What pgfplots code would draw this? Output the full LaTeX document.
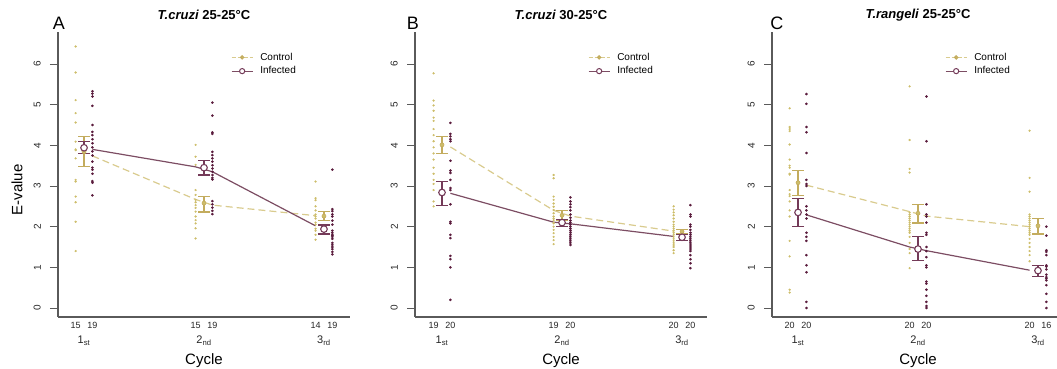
\documentclass[border=0pt]{standalone}
\usepackage{pgfplots}
\pgfplotsset{compat=1.18}
\usepackage{fontspec}
\setmainfont{Liberation Sans}
\definecolor{ctrl}{HTML}{CDBD6A}
\definecolor{ctrlline}{HTML}{D9CB8E}
\definecolor{ctrlerr}{HTML}{C3AC5E}
\definecolor{inf}{HTML}{5A1B3C}
\definecolor{infline}{HTML}{7C4D63}
\definecolor{inferr}{HTML}{743A58}
\definecolor{axgray}{HTML}{5A5A5A}
\tikzset{
  cnt/.style={font=\fontsize{9}{10}\selectfont, text=black!85, anchor=base, yshift=-11.5pt, inner sep=0pt},
  ord/.style={font=\fontsize{11}{12}\selectfont, text=black!85, anchor=base, yshift=-27pt, inner sep=0pt},
}
\newcommand{\cyclelabels}[6]{%
  \node[cnt] at (axis cs:0.93,-0.221) {#1};
  \node[cnt] at (axis cs:1.07,-0.221) {#2};
  \node[cnt] at (axis cs:1.93,-0.221) {#3};
  \node[cnt] at (axis cs:2.07,-0.221) {#4};
  \node[cnt] at (axis cs:2.93,-0.221) {#5};
  \node[cnt] at (axis cs:3.07,-0.221) {#6};
  \node[ord] at (axis cs:1,-0.221) {1\textsubscript{st}};
  \node[ord] at (axis cs:2,-0.221) {2\textsubscript{nd}};
  \node[ord] at (axis cs:3,-0.221) {3\textsubscript{rd}};
  \node[font=\fontsize{15}{15}\selectfont] at (axis description cs:0.5,-0.1544) {Cycle};
}
\pgfplotsset{
  panel/.style={
    scale only axis, width=292pt, height=285pt,
    ymin=-0.221, ymax=6.786,
    axis x line*=bottom, axis y line*=left,
    axis line style={-, draw=axgray, line width=1.1pt},
    ytick={0,1,2,3,4,5,6}, xtick=\empty,
    ytick pos=left,
    tick align=outside, major tick length=8pt,
    ytick style={draw=axgray, line width=0.9pt},
    /pgf/number format/assume math mode=true,
    yticklabel style={rotate=90, anchor=south, inner sep=0pt, font=\fontsize{10}{11}\selectfont, text=black!85},
    yticklabel shift=9pt,
    clip=false,
    title style={font=\fontsize{13}{14}\selectfont\bfseries, at={(axis description cs:0.5,1)}, anchor=center, yshift=11pt},
    legend style={draw=none, fill=none, at={(axis description cs:0.592,0.934)}, anchor=north west, inner sep=0pt, row sep=1pt, column sep=5pt, font=\fontsize{10}{12}\selectfont},
    legend cell align=left,
    legend image code/.code={\draw[mark repeat=2,mark phase=2,##1] plot coordinates {(0pt,0pt) (10.5pt,0pt) (21pt,0pt)};},
  },
  ctrldots/.style={only marks, mark=*, mark size=0.9pt, color=ctrl, mark options={draw=none, fill=ctrl}},
  infdots/.style={only marks, mark=*, mark size=1.1pt, color=inf, mark options={draw=none, fill=inf}},
  ctrlln/.style={no marks, line width=1.2pt, color=ctrlline, dash pattern=on 7pt off 4pt},
  infln/.style={no marks, line width=1.2pt, color=infline, solid},
  ctrlleg/.style={line width=1.2pt, color=ctrlline, dash pattern=on 4pt off 2pt, mark=*, mark size=1.6pt, mark options={solid, fill=ctrl, draw=ctrlerr}},
  infleg/.style={line width=1.2pt, color=infline, solid, mark=*, mark size=2.6pt, mark options={solid, fill=white, draw=inferr, line width=1pt}},
  ctrlmean/.style={only marks, mark=*, mark size=2pt, color=ctrlerr, mark options={draw=ctrlerr, fill=ctrl, line width=0.6pt},
    error bars/.cd, y dir=both, y explicit,
    error bar style={line width=1.1pt, draw=ctrlerr},
    error mark options={rotate=90, mark size=6pt, line width=1.1pt, draw=ctrlerr}},
  infmean/.style={only marks, mark=*, mark size=3.3pt, color=inferr, mark options={draw=inferr, fill=white, line width=1.1pt},
    error bars/.cd, y dir=both, y explicit,
    error bar style={line width=1.1pt, draw=inferr},
    error mark options={rotate=90, mark size=6pt, line width=1.1pt, draw=inferr}},
}
\begin{document}
\begin{tikzpicture}
\useasboundingbox (0pt,0pt) rectangle (1057pt,369pt);
% ---------------- Panel A
\begin{axis}[panel, at={(58pt,52pt)}, anchor=south west, xmin=0.783, xmax=3.217,
  title={\textit{T.cruzi} 25-25°C}]
\addlegendimage{ctrlleg}
\addlegendentry{Control}
\addlegendimage{infleg}
\addlegendentry{Infected}
\addplot[ctrldots] coordinates {(0.93,6.43) (0.93,5.79) (0.93,5.11) (0.93,4.79) (0.93,4.56) (0.93,4.09) (0.93,3.9) (0.93,3.88) (0.93,3.68) (0.93,3.15) (0.93,3.11) (0.93,2.74) (0.93,2.6) (0.93,2.12) (0.93,1.4)};
\addplot[infdots] coordinates {(1.07,5.33) (1.07,5.27) (1.07,5.2) (1.07,4.97) (1.07,4.5) (1.07,4.33) (1.07,4.25) (1.07,4.15) (1.07,4.05) (1.07,3.95) (1.07,3.85) (1.07,3.75) (1.07,3.6) (1.07,3.45) (1.07,3.4) (1.07,3.3) (1.07,3.12) (1.07,3.08) (1.07,2.77)};
\addplot[ctrldots] coordinates {(1.93,4.01) (1.93,3.72) (1.93,3.52) (1.93,2.9) (1.93,2.78) (1.93,2.66) (1.93,2.6) (1.93,2.53) (1.93,2.46) (1.93,2.37) (1.93,2.25) (1.93,2.16) (1.93,2.08) (1.93,1.96) (1.93,1.71)};
\addplot[infdots] coordinates {(2.07,5.05) (2.07,4.73) (2.07,4.32) (2.07,4.28) (2.07,3.84) (2.07,3.76) (2.07,3.68) (2.07,3.6) (2.07,3.51) (2.07,3.43) (2.07,3.35) (2.07,3.27) (2.07,3.2) (2.07,3.16) (2.07,2.63) (2.07,2.55) (2.07,2.47) (2.07,2.39) (2.07,2.31)};
\addplot[ctrldots] coordinates {(2.93,3.11) (2.93,2.7) (2.93,2.65) (2.93,2.5) (2.93,2.4) (2.93,2.3) (2.93,2.25) (2.93,2.2) (2.93,2.1) (2.93,2.05) (2.93,1.95) (2.93,1.9) (2.93,1.8) (2.93,1.68)};
\addplot[infdots] coordinates {(3.07,3.4) (3.07,2.43) (3.07,2.38) (3.07,2.3) (3.07,2.25) (3.07,2.15) (3.07,2.05) (3.07,1.9) (3.07,1.85) (3.07,1.8) (3.07,1.78) (3.07,1.75) (3.07,1.7) (3.07,1.6) (3.07,1.55) (3.07,1.5) (3.07,1.45) (3.07,1.38) (3.07,1.32)};
\addplot[ctrlln] coordinates {(1.07,3.74) (1.93,2.67) (2.07,2.53) (2.93,2.27)};
\addplot[infln] coordinates {(1.07,3.90) (1.93,3.47) (2.07,3.35) (2.93,2.02)};
\addplot[ctrlmean] coordinates {(1,3.84) += (0,0.37) -= (0,0.37) (2,2.58) += (0,0.17) -= (0,0.22) (3,2.26) += (0,0.12) -= (0,0.10)};
\addplot[infmean] coordinates {(1,3.94) += (0,0.15) -= (0,0.14) (2,3.45) += (0,0.17) -= (0,0.18) (3,1.94) += (0,0.10) -= (0,0.12)};
\cyclelabels{15}{19}{15}{19}{14}{19}
\node[font=\fontsize{18}{18}\selectfont] at (axis description cs:0.003,1.0316) {A};
\node[rotate=90, font=\fontsize{15}{15}\selectfont] at (axis description cs:-0.1404,0.446) {E-value};
\end{axis}
% ---------------- Panel B
\begin{axis}[panel, at={(415pt,52pt)}, anchor=south west, xmin=0.775, xmax=3.208,
  title={\textit{T.cruzi} 30-25°C}]
\addlegendimage{ctrlleg}
\addlegendentry{Control}
\addlegendimage{infleg}
\addlegendentry{Infected}
\addplot[ctrldots] coordinates {(0.93,5.77) (0.93,5.1) (0.93,4.98) (0.93,4.85) (0.93,4.68) (0.93,4.6) (0.93,4.4) (0.93,4.25) (0.93,4.1) (0.93,3.95) (0.93,3.8) (0.93,3.65) (0.93,3.45) (0.93,3.3) (0.93,3.15) (0.93,3.05) (0.93,2.9) (0.93,2.62) (0.93,2.5)};
\addplot[infdots] coordinates {(1.07,4.55) (1.07,4.28) (1.07,4.22) (1.07,4.15) (1.07,4.1) (1.07,3.62) (1.07,3.38) (1.07,3.32) (1.07,3.15) (1.07,2.95) (1.07,2.9) (1.07,2.55) (1.07,2.12) (1.07,2.08) (1.07,1.8) (1.07,1.72) (1.07,1.28) (1.07,1.2) (1.07,1.0) (1.07,0.2)};
\addplot[ctrldots] coordinates {(1.93,3.27) (1.93,3.19) (1.93,2.74) (1.93,2.66) (1.93,2.57) (1.93,2.49) (1.93,2.41) (1.93,2.33) (1.93,2.25) (1.93,2.2) (1.93,2.16) (1.93,2.1) (1.93,2.08) (1.93,2.0) (1.93,1.92) (1.93,1.84) (1.93,1.75) (1.93,1.67) (1.93,1.57)};
\addplot[infdots] coordinates {(2.07,2.72) (2.07,2.62) (2.07,2.55) (2.07,2.48) (2.07,2.4) (2.07,2.3) (2.07,2.22) (2.07,2.15) (2.07,2.1) (2.07,2.05) (2.07,2.0) (2.07,1.95) (2.07,1.9) (2.07,1.85) (2.07,1.8) (2.07,1.75) (2.07,1.7) (2.07,1.65) (2.07,1.6) (2.07,1.55)};
\addplot[ctrldots] coordinates {(2.93,2.5) (2.93,2.42) (2.93,2.35) (2.93,2.28) (2.93,2.2) (2.93,2.12) (2.93,2.05) (2.93,2.0) (2.93,1.95) (2.93,1.9) (2.93,1.85) (2.93,1.8) (2.93,1.75) (2.93,1.7) (2.93,1.65) (2.93,1.6) (2.93,1.55) (2.93,1.5) (2.93,1.42) (2.93,1.35)};
\addplot[infdots] coordinates {(3.07,2.53) (3.07,2.3) (3.07,2.25) (3.07,2.05) (3.07,2.0) (3.07,1.92) (3.07,1.85) (3.07,1.8) (3.07,1.75) (3.07,1.7) (3.07,1.65) (3.07,1.6) (3.07,1.55) (3.07,1.5) (3.07,1.45) (3.07,1.4) (3.07,1.3) (3.07,1.2) (3.07,1.1) (3.07,0.98)};
\addplot[ctrlln] coordinates {(1.07,3.96) (1.93,2.40) (2.07,2.26) (2.93,1.89)};
\addplot[infln] coordinates {(1.07,2.82) (1.93,2.11) (2.07,2.07) (2.93,1.76)};
\addplot[ctrlmean] coordinates {(1,4.01) += (0,0.20) -= (0,0.21) (2,2.28) += (0,0.12) -= (0,0.12) (3,1.88) += (0,0.05) -= (0,0.05)};
\addplot[infmean] coordinates {(1,2.84) += (0,0.27) -= (0,0.31) (2,2.10) += (0,0.08) -= (0,0.10) (3,1.74) += (0,0.07) -= (0,0.07)};
\cyclelabels{19}{20}{19}{20}{20}{20}
\node[font=\fontsize{18}{18}\selectfont] at (axis description cs:-0.007,1.0316) {B};
\end{axis}
% ---------------- Panel C
\begin{axis}[panel, at={(772pt,52pt)}, anchor=south west, xmin=0.783, xmax=3.217,
  title={\textit{T.rangeli} 25-25°C}]
\addlegendimage{ctrlleg}
\addlegendentry{Control}
\addlegendimage{infleg}
\addlegendentry{Infected}
\addplot[ctrldots] coordinates {(0.93,4.91) (0.93,4.45) (0.93,4.4) (0.93,4.35) (0.93,4.02) (0.93,3.65) (0.93,3.5) (0.93,3.45) (0.93,3.3) (0.93,3.28) (0.93,2.9) (0.93,2.8) (0.93,2.75) (0.93,2.62) (0.93,2.4) (0.93,2.25) (0.93,1.65) (0.93,1.27) (0.93,0.45) (0.93,0.38)};
\addplot[infdots] coordinates {(1.07,5.26) (1.07,5.02) (1.07,4.45) (1.07,4.32) (1.07,3.81) (1.07,3.15) (1.07,3.05) (1.07,3.0) (1.07,2.5) (1.07,2.4) (1.07,2.3) (1.07,2.2) (1.07,1.85) (1.07,1.75) (1.07,1.65) (1.07,1.3) (1.07,1.05) (1.07,0.88) (1.07,0.15) (1.07,0.0)};
\addplot[ctrldots] coordinates {(1.93,5.45) (1.93,4.13) (1.93,3.42) (1.93,3.33) (1.93,2.35) (1.93,2.3) (1.93,2.25) (1.93,2.2) (1.93,2.15) (1.93,2.1) (1.93,2.05) (1.93,2.0) (1.93,1.95) (1.93,1.9) (1.93,1.85) (1.93,1.75) (1.93,1.6) (1.93,1.45) (1.93,1.35) (1.93,0.98)};
\addplot[infdots] coordinates {(2.07,5.2) (2.07,4.1) (2.07,2.55) (2.07,2.3) (2.07,2.25) (2.07,2.1) (2.07,1.85) (2.07,1.8) (2.07,1.5) (2.07,1.4) (2.07,1.25) (2.07,1.05) (2.07,1.0) (2.07,0.65) (2.07,0.6) (2.07,0.45) (2.07,0.3) (2.07,0.15) (2.07,0.05) (2.07,0.0)};
\addplot[ctrldots] coordinates {(2.93,4.36) (2.93,3.2) (2.93,2.86) (2.93,2.3) (2.93,2.25) (2.93,2.2) (2.93,2.15) (2.93,2.1) (2.93,2.05) (2.93,2.0) (2.93,1.95) (2.93,1.9) (2.93,1.85) (2.93,1.8) (2.93,1.7) (2.93,1.6) (2.93,1.5) (2.93,1.4) (2.93,1.3) (2.93,1.15)};
\addplot[infdots] coordinates {(3.07,2.0) (3.07,1.78) (3.07,1.42) (3.07,1.38) (3.07,1.3) (3.07,1.05) (3.07,1.02) (3.07,0.95) (3.07,0.82) (3.07,0.76) (3.07,0.72) (3.07,0.68) (3.07,0.56) (3.07,0.35) (3.07,0.15) (3.07,0.0)};
\addplot[ctrlln] coordinates {(1.07,3.02) (1.93,2.37) (2.07,2.26) (2.93,2.0)};
\addplot[infln] coordinates {(1.07,2.29) (1.93,1.50) (2.07,1.41) (2.93,0.93)};
\addplot[ctrlmean] coordinates {(1,3.08) += (0,0.30) -= (0,0.31) (2,2.33) += (0,0.22) -= (0,0.24) (3,2.02) += (0,0.19) -= (0,0.20)};
\addplot[infmean] coordinates {(1,2.35) += (0,0.35) -= (0,0.35) (2,1.45) += (0,0.31) -= (0,0.28) (3,0.92) += (0,0.12) -= (0,0.15)};
\cyclelabels{20}{20}{20}{20}{20}{16}
\node[font=\fontsize{18}{18}\selectfont] at (axis description cs:0.017,1.0316) {C};
\end{axis}
\end{tikzpicture}
\end{document}
